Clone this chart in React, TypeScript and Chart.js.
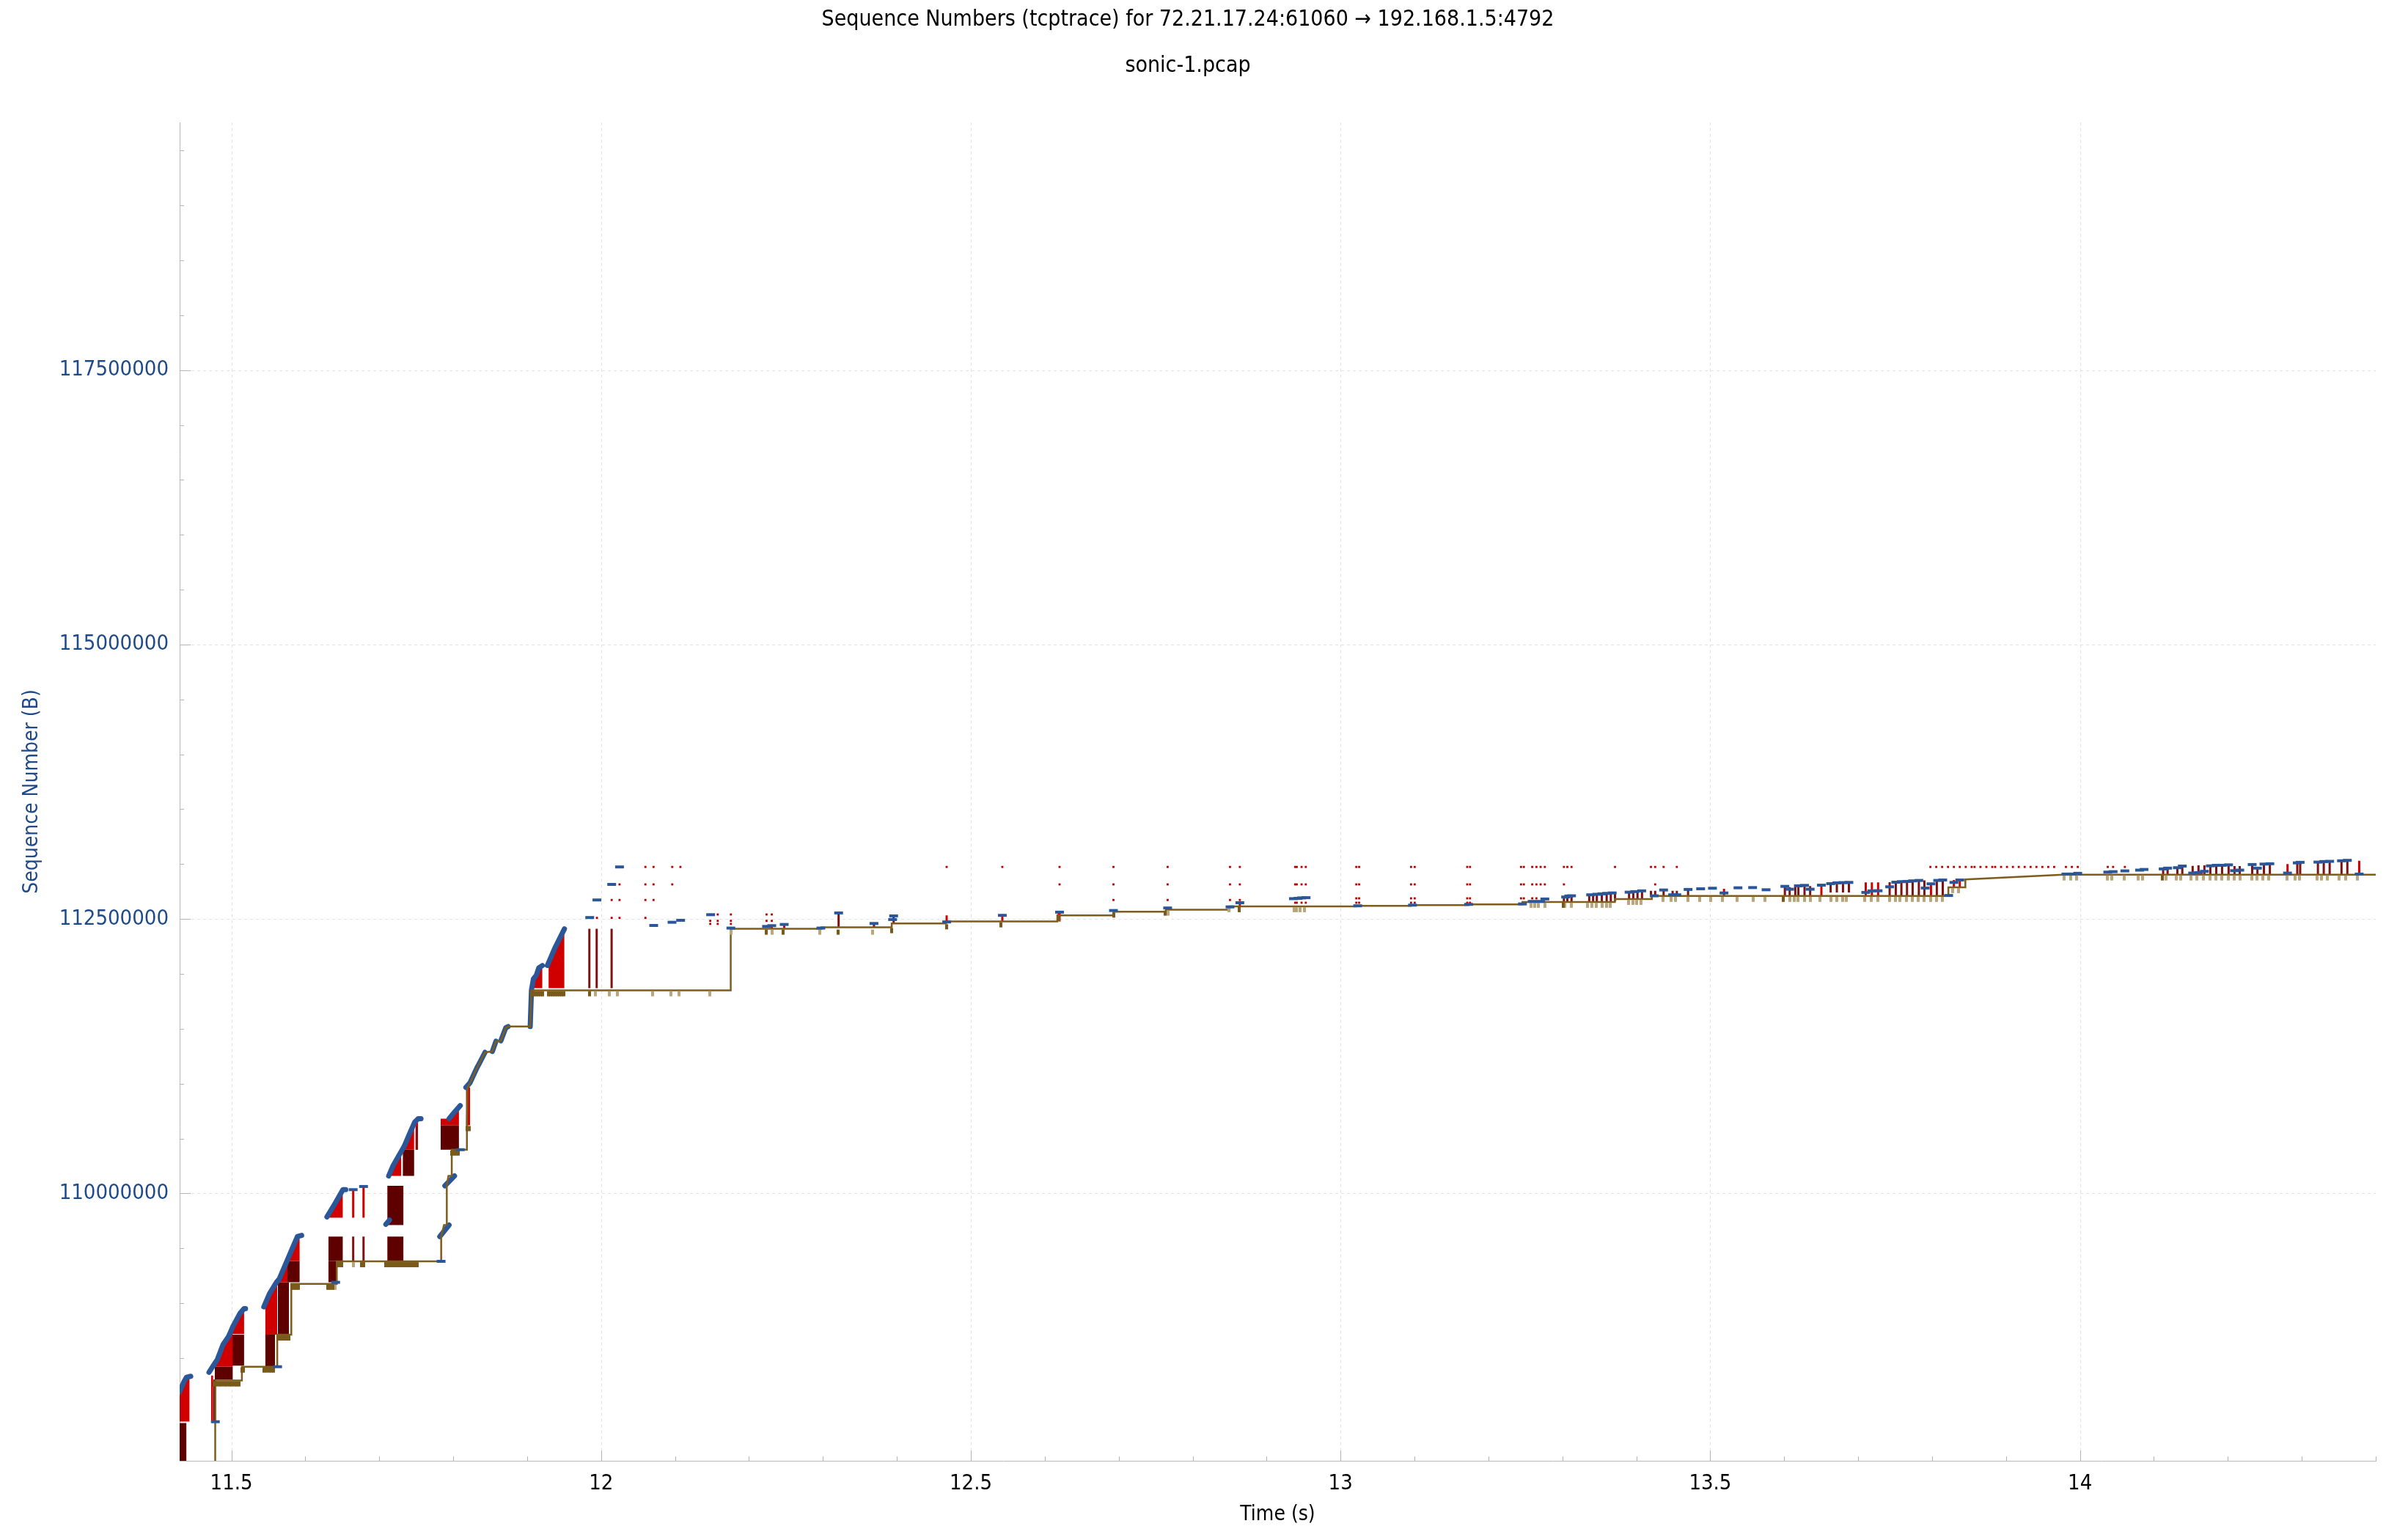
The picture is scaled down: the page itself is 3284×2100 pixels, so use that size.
import React, { useEffect, useRef } from 'react';
import { Chart, registerables } from 'chart.js';

Chart.register(...registerables);

// ---------- text ----------
const TITLE = 'Sequence Numbers (tcptrace) for 72.21.17.24:61060 \u2192 192.168.1.5:4792';
const SUBTITLE = 'sonic-1.pcap';
const X_LABEL = 'Time (s)';
const Y_LABEL = 'Sequence Number (B)';

// ---------- axes ----------
const X_MIN = 11.43;
const X_MAX = 14.4;
const Y_MIN = 107564000;
const Y_MAX = 119756000;
const xMajorTicks = [11.5, 12, 12.5, 13, 13.5, 14];
const xMinorTicks = [11.6, 11.7, 11.8, 11.9, 12.1, 12.2, 12.3, 12.4, 12.6, 12.7, 12.8, 12.9, 13.1, 13.2, 13.3, 13.4, 13.6, 13.7, 13.8, 13.9, 14.1, 14.2, 14.3, 14.4];
const yMajorTicks = [110000000, 112500000, 115000000, 117500000];
const yMinorTicks = [108, 108.5, 109, 109.5, 110.5, 111, 111.5, 112, 113, 113.5, 114, 114.5, 115.5, 116, 116.5, 117, 118, 118.5, 119, 119.5];

// ---------- data (time s, sequence in millions of bytes) ----------
const ackTimes = [11.43, 11.4781, 11.4781, 11.5142, 11.5142, 11.562, 11.562, 11.581, 11.581, 11.6425, 11.6425, 11.7837, 11.7837, 11.7875, 11.7913, 11.7913, 11.7935, 11.798, 11.798, 11.8185, 11.8185, 11.8195, 11.8228, 11.832, 11.8363, 11.843, 11.8529, 11.8578, 11.8644, 11.871, 11.8743, 11.9041, 11.9058, 12.1753, 12.1753, 12.298, 12.298, 12.393, 12.393, 12.466, 12.466, 12.617, 12.617, 12.693, 12.693, 12.764, 12.764, 12.85, 12.85, 13.021, 13.021, 13.095, 13.095, 13.173, 13.173, 13.246, 13.246, 13.371, 13.371, 13.421, 13.421, 13.822, 13.822, 13.845, 13.845, 13.977, 14.4];
const ackSeqs = [107.3, 107.3, 108.295, 108.295, 108.421, 108.421, 108.713, 108.713, 109.175, 109.175, 109.381, 109.381, 109.607, 109.712, 109.712, 110.069, 110.159, 110.159, 110.398, 110.398, 110.621, 110.965, 111.009, 111.143, 111.197, 111.285, 111.293, 111.386, 111.39, 111.508, 111.52, 111.52, 111.849, 111.849, 112.41, 112.41, 112.424, 112.424, 112.459, 112.459, 112.477, 112.477, 112.533, 112.533, 112.566, 112.566, 112.584, 112.584, 112.615, 112.615, 112.62, 112.62, 112.626, 112.626, 112.633, 112.633, 112.655, 112.655, 112.682, 112.682, 112.709, 112.709, 112.789, 112.789, 112.86, 112.904, 112.904];

// data-segment bursts (blue)
const segmentBursts: [number, number][][] = [
  [[11.4299, 108.191], [11.4355, 108.28], [11.4393, 108.325], [11.445, 108.334]],
  [[11.4697, 108.37], [11.4754, 108.43], [11.4811, 108.489], [11.4887, 108.623], [11.4963, 108.698], [11.502, 108.787], [11.5115, 108.906], [11.5172, 108.951], [11.5191, 108.951]],
  [[11.5438, 108.966], [11.5514, 109.085], [11.5609, 109.19], [11.5647, 109.22], [11.5741, 109.369], [11.5817, 109.488], [11.5893, 109.607], [11.595, 109.617]],
  [[11.6292, 109.786], [11.6387, 109.891], [11.6508, 110.034], [11.6546, 110.034]],
  [[11.7089, 109.718], [11.7138, 109.757]],
  [[11.7127, 110.159], [11.7184, 110.249], [11.7298, 110.383], [11.7336, 110.428], [11.7412, 110.547], [11.748, 110.651], [11.7526, 110.681], [11.7564, 110.681]],
  [[11.7818, 109.607], [11.7944, 109.712]],
  [[11.7887, 110.069], [11.8017, 110.159]],
  [[11.7944, 110.681], [11.8017, 110.74], [11.8095, 110.8]],
  [[11.8171, 110.965], [11.8228, 111.009], [11.832, 111.143], [11.8363, 111.197], [11.843, 111.285]],
  [[11.8529, 111.293], [11.8578, 111.386]],
  [[11.8644, 111.39], [11.871, 111.508], [11.8743, 111.52]],
  [[11.9041, 111.52], [11.9058, 111.853], [11.9084, 111.953], [11.9124, 111.987], [11.9157, 112.054], [11.9206, 112.076]],
  [[11.9273, 112.076], [11.9372, 112.232], [11.9504, 112.41]],
];

// SACK fill regions (bright red): times, upper edge, lower edge
const sackRegionTimes = [
  [11.4299, 11.4355, 11.4393, 11.4435],
  [11.4724, 11.4754],
  [11.4754, 11.4811, 11.4887, 11.4963, 11.502],
  [11.5001, 11.5115, 11.5172],
  [11.5457, 11.5514, 11.5609, 11.562],
  [11.5628, 11.5647, 11.5741, 11.5758],
  [11.5758, 11.5817, 11.5893, 11.5924],
  [11.6311, 11.6387, 11.6508],
  [11.7146, 11.7184, 11.7298],
  [11.7317, 11.7336, 11.7412, 11.7472],
  [11.7488, 11.7526],
  [11.783, 11.7944, 11.8017, 11.8077],
  [11.8171, 11.8228],
  [11.9094, 11.9124, 11.9157, 11.9206],
  [11.9289, 11.9372, 11.9504],
];
const sackRegionTops = [
  [108.191, 108.28, 108.325, 108.334],
  [108.34, 108.34],
  [108.43, 108.489, 108.623, 108.698, 108.787],
  [108.757, 108.906, 108.951],
  [108.996, 109.085, 109.19, 109.199],
  [109.205, 109.22, 109.369, 109.399],
  [109.399, 109.488, 109.607, 109.612],
  [109.801, 109.891, 110.034],
  [110.189, 110.249, 110.383],
  [110.4, 110.428, 110.547, 110.642],
  [110.651, 110.681],
  [110.681, 110.681, 110.74, 110.79],
  [110.965, 110.965],
  [111.964, 111.987, 112.054, 112.076],
  [112.087, 112.232, 112.41],
];
const sackRegionBases = [107.922, 107.922, 108.423, 108.72, 108.713, 109.19, 109.384, 109.778, 110.159, 110.398, 110.398, 110.621, 110.621, 111.869, 111.869];

// older SACK blocks (dark red): t0, t1, low, high
const darkSackBlocks: [number, number, number, number][] = [
  [11.4299, 11.4393, 107.3, 107.908],
  [11.4754, 11.4793, 107.922, 108.304],
  [11.4774, 11.502, 108.304, 108.423],
  [11.5001, 11.5172, 108.43, 108.713],
  [11.5457, 11.559, 108.423, 108.713],
  [11.5628, 11.578, 108.713, 109.19],
  [11.5758, 11.5924, 109.19, 109.384],
  [11.6311, 11.6508, 109.384, 109.607],
  [11.6311, 11.6425, 109.19, 109.384],
  [11.7317, 11.7472, 110.159, 110.398],
  [11.7108, 11.7328, 109.712, 110.069],
  [11.7108, 11.7328, 109.384, 109.607],
  [11.783, 11.8077, 110.398, 110.621],
];

// single SACK blocks: time, low, high
const sackLinesBright: [number, number, number][] = [
  [11.6647, 109.778, 110.034], [11.6787, 109.778, 110.063], [12.2308, 112.41, 112.439], [12.2476, 112.417, 112.45],
  [12.4673, 112.459, 112.533], [12.5426, 112.477, 112.543], [12.62, 112.477, 112.562], [12.6189, 112.533, 112.559],
  [12.7662, 112.584, 112.6], [12.8638, 112.615, 112.648], [13.5186, 112.715, 112.775], [13.6503, 112.709, 112.808],
  [13.7103, 112.709, 112.833], [13.7186, 112.709, 112.833], [13.727, 112.709, 112.833], [13.7985, 112.709, 112.82],
  [13.8295, 112.789, 112.855], [13.8375, 112.789, 112.855], [14.2807, 112.904, 113.0], [14.3776, 112.904, 113.03],
];
const sackLinesDark: [number, number, number][] = [
  [11.6647, 109.384, 109.607], [11.6787, 109.384, 109.607], [11.7507, 110.398, 110.607],
  [11.9841, 111.869, 112.41], [11.994, 111.869, 112.41], [12.0142, 111.869, 112.41],
  [12.3212, 112.423, 112.555], [12.369, 112.423, 112.459], [12.3956, 112.459, 112.528],
  [13.3021, 112.655, 112.7], [13.3067, 112.655, 112.709], [13.3124, 112.655, 112.711], [13.3363, 112.655, 112.72],
  [13.3416, 112.655, 112.725], [13.3466, 112.655, 112.727], [13.3534, 112.655, 112.729], [13.3599, 112.655, 112.733],
  [13.3655, 112.655, 112.737], [13.3712, 112.66, 112.735], [13.3902, 112.682, 112.744], [13.3959, 112.682, 112.749],
  [13.4016, 112.682, 112.752], [13.4077, 112.682, 112.756], [13.4198, 112.711, 112.756], [13.4255, 112.711, 112.756],
  [13.4369, 112.709, 112.764], [13.4491, 112.709, 112.756], [13.4548, 112.709, 112.756], [13.47, 112.709, 112.769],
  [13.6009, 112.709, 112.797], [13.6074, 112.709, 112.79], [13.615, 112.709, 112.8], [13.6192, 112.709, 112.802],
  [13.6275, 112.709, 112.806], [13.6351, 112.709, 112.8], [13.6628, 112.742, 112.822], [13.6712, 112.742, 112.829],
  [13.6795, 112.742, 112.831], [13.6875, 112.742, 112.833], [13.7426, 112.709, 112.835], [13.7509, 112.709, 112.835],
  [13.7585, 112.709, 112.84], [13.7661, 112.709, 112.842], [13.7737, 112.709, 112.847], [13.7821, 112.709, 112.851],
  [13.7896, 112.709, 112.851], [13.8064, 112.709, 112.851], [13.8144, 112.709, 112.855],
  [14.1125, 112.904, 112.956], [14.1185, 112.904, 112.963], [14.1317, 112.904, 112.967], [14.1384, 112.904, 112.982],
  [14.1524, 112.904, 112.984], [14.1603, 112.904, 112.989], [14.1683, 112.904, 112.989], [14.1763, 112.904, 112.989],
  [14.1843, 112.904, 112.989], [14.1922, 112.904, 112.989], [14.201, 112.904, 112.993], [14.209, 112.904, 112.982],
  [14.2161, 112.904, 112.982], [14.2329, 112.904, 112.996], [14.24, 112.904, 112.963], [14.2488, 112.904, 113.0],
  [14.2568, 112.904, 113.003], [14.2939, 112.904, 113.011], [14.2978, 112.904, 113.016], [14.3218, 112.904, 113.018],
  [14.3297, 112.904, 113.023], [14.3377, 112.904, 113.025], [14.3537, 112.904, 113.03], [14.3616, 112.904, 113.034],
];

// repeated tiny SACK blocks: [sequence, times]
const sackDotRows: [number, number[]][] = [
  [112.974, [12.0599, 12.0709, 12.0962, 12.1072, 12.4673, 12.5426, 12.62, 12.6929, 12.7662, 12.8505, 12.8638, 12.9386, 12.9408, 12.9473, 12.953, 13.0213, 13.0251, 13.0954, 13.1003, 13.1713, 13.1751, 13.2441, 13.2479, 13.2592, 13.2649, 13.2706, 13.2763, 13.3021, 13.3067, 13.3124, 13.3712, 13.4198, 13.4255, 13.4369, 13.4548, 13.7977, 13.8056, 13.8136, 13.8216, 13.8295, 13.8375, 13.8455, 13.8535, 13.8574, 13.8654, 13.8734, 13.8814, 13.8853, 13.8933, 13.9013, 13.9093, 13.9172, 13.9252, 13.9332, 13.9411, 13.9491, 13.9571, 13.9651, 13.981, 13.989, 13.997, 14.0376, 14.0448, 14.0607]],
  [112.815, [12.0249, 12.0599, 12.0709, 12.0962, 12.62, 12.6929, 12.7662, 12.8505, 12.8638, 12.9386, 12.9408, 12.9473, 12.953, 13.0213, 13.0251, 13.0954, 13.1003, 13.1713, 13.1751, 13.2441, 13.2479, 13.2592, 13.2649, 13.2706, 13.2763, 13.3021, 13.4255]],
  [112.688, [13.0213, 13.0251, 13.0954, 13.1003, 13.1713, 13.1751, 13.2441, 13.2479, 13.2592, 13.2649]],
  [112.673, [12.0143, 12.0249, 12.0599, 12.0709, 12.6929, 12.7662, 12.8505, 12.8638]],
  [112.648, [12.9386, 12.9408, 12.9473, 12.953, 13.0213, 13.0251, 13.0954, 13.1003, 13.1713, 13.1751]],
  [112.541, [12.1577, 12.1755, 12.2237, 12.2308]],
  [112.51, [11.9943, 12.0143, 12.0249, 12.0599]],
  [112.483, [12.1476, 12.1577, 12.1755, 12.2237, 12.2308]],
  [112.455, [12.1476, 12.1577, 12.1755]],
];

// individual data segments: [time, sequence]
const segmentMarks: [number, number][] = [
  [11.4783, 107.92], [11.5625, 108.421], [11.641, 109.19], [11.6647, 110.034], [11.6787, 110.063], [11.7836, 109.381], [11.8095, 110.398],
  [11.9846, 112.513], [11.9943, 112.673], [12.0143, 112.815], [12.0249, 112.974], [12.0711, 112.441], [12.0959, 112.47], [12.1075, 112.488],
  [12.1481, 112.539], [12.1755, 112.417], [12.2237, 112.432], [12.2308, 112.439], [12.2476, 112.45], [12.2972, 112.417], [12.3212, 112.555],
  [12.369, 112.459], [12.3942, 112.495], [12.3956, 112.528], [12.4673, 112.473], [12.5426, 112.533], [12.62, 112.562], [12.6929, 112.577],
  [12.7662, 112.6], [12.8505, 112.61], [12.8638, 112.648], [12.9363, 112.685], [12.9425, 112.688], [12.9473, 112.692], [12.9534, 112.694],
  [13.0232, 112.62], [13.0973, 112.626], [13.1732, 112.633], [13.246, 112.637], [13.2592, 112.66], [13.2706, 112.66], [13.2763, 112.682],
  [13.3044, 112.7], [13.3086, 112.709], [13.3124, 112.711], [13.3382, 112.72], [13.3466, 112.725], [13.3534, 112.729], [13.3599, 112.733],
  [13.3674, 112.737], [13.3902, 112.744], [13.3978, 112.749], [13.4073, 112.756], [13.4243, 112.711], [13.4369, 112.764], [13.4491, 112.72],
  [13.4548, 112.72], [13.47, 112.769], [13.487, 112.775], [13.503, 112.78], [13.5186, 112.737], [13.5375, 112.784], [13.5573, 112.786],
  [13.5755, 112.766], [13.6009, 112.797], [13.6074, 112.771], [13.6192, 112.802], [13.6275, 112.806], [13.6351, 112.771], [13.6503, 112.808],
  [13.6628, 112.822], [13.6712, 112.829], [13.6795, 112.831], [13.6875, 112.833], [13.7103, 112.742], [13.7186, 112.756], [13.727, 112.757],
  [13.7426, 112.793], [13.7509, 112.835], [13.7585, 112.84], [13.7661, 112.842], [13.7737, 112.847], [13.7821, 112.851], [13.7907, 112.782],
  [13.7985, 112.82], [13.8076, 112.851], [13.8144, 112.855], [13.8224, 112.714], [13.8295, 112.833], [13.8375, 112.855], [13.981, 112.909],
  [13.989, 112.909], [13.997, 112.916], [14.0376, 112.927], [14.0448, 112.931], [14.0607, 112.938], [14.0806, 112.945], [14.0866, 112.951],
  [14.1125, 112.956], [14.1185, 112.963], [14.1317, 112.967], [14.1384, 112.982], [14.1524, 112.918], [14.1603, 112.922], [14.1683, 112.934],
  [14.1763, 112.984], [14.1843, 112.989], [14.1922, 112.989], [14.201, 112.993], [14.209, 112.94], [14.2161, 112.945], [14.2329, 112.996],
  [14.24, 112.963], [14.2488, 113.0], [14.2568, 113.003], [14.2807, 112.918], [14.2939, 113.011], [14.2978, 113.016], [14.3218, 113.018],
  [14.3297, 113.023], [14.3377, 113.025], [14.3537, 113.03], [14.3616, 113.034], [14.3776, 112.909],
];

// ack markers hanging under the ack line: [ack sequence, times]
const ackMarksDark: [number, number[]][] = [
  [108.295, [11.4765, 11.4799, 11.4834, 11.4868, 11.4902, 11.4936, 11.4971, 11.5005, 11.5039, 11.5073, 11.5107]],
  [108.421, [11.5142, 11.5165, 11.5445, 11.5475, 11.5505, 11.5535, 11.5565]],
  [108.713, [11.5625, 11.5655, 11.5685, 11.5715, 11.5745, 11.5775]],
  [109.175, [11.5815, 11.5845, 11.5875, 11.5905, 11.6305, 11.6335, 11.637]],
  [109.381, [11.6435, 11.6465, 11.6495, 11.6755, 11.679, 11.709, 11.7125, 11.716, 11.7195, 11.723, 11.7265, 11.73, 11.7335, 11.737, 11.7405, 11.744, 11.7475, 11.751]],
  [110.398, [11.798, 11.801, 11.804, 11.807]],
  [110.621, [11.8185, 11.8215]],
  [111.849, [11.906, 11.909, 11.912, 11.915, 11.918, 11.921, 11.929, 11.932, 11.935, 11.938, 11.941, 11.944, 11.947, 11.95, 11.9841]],
  [112.41, [12.2237, 12.2458, 12.3203]],
  [112.424, [12.393]],
  [112.459, [12.4673]],
  [112.477, [12.541]],
  [112.533, [12.6187]],
  [112.566, [12.6929]],
  [112.584, [12.7632]],
  [112.615, [12.8626]],
  [112.655, [13.301]],
  [112.709, [13.5991]],
  [112.904, [14.1117]],
];
const ackMarksLight: [number, number[]][] = [
  [109.175, [11.6405]],
  [109.381, [11.6647]],
  [111.849, [11.9923, 12.0115, 12.0225, 12.0695, 12.0943, 12.1052, 12.1468]],
  [112.41, [12.1755, 12.2308, 12.2959, 12.3668]],
  [112.584, [12.767]],
  [112.615, [12.8493, 12.9371, 12.9405, 12.9454, 12.9511]],
  [112.655, [13.2574, 13.2623, 13.268, 13.2763, 13.3029, 13.3124, 13.334, 13.3401, 13.3458, 13.3542, 13.3599, 13.3648]],
  [112.682, [13.3891, 13.3952, 13.4008, 13.4062]],
  [112.709, [13.4365, 13.4475, 13.4529, 13.4696, 13.4859, 13.5003, 13.5163, 13.536, 13.5577, 13.5744, 13.6074, 13.6135, 13.6181, 13.6275, 13.6351, 13.6484, 13.6628, 13.6712, 13.6795, 13.6844, 13.7091, 13.7175, 13.7262, 13.7426, 13.7501, 13.7566, 13.765, 13.773, 13.7813, 13.7896, 13.7977, 13.8056, 13.8136]],
  [112.789, [13.8275, 13.8355]],
  [112.904, [13.9782, 13.987, 13.9957, 14.0368, 14.0428, 14.0595, 14.0786, 14.0846, 14.1165, 14.1305, 14.1364, 14.1504, 14.1584, 14.1671, 14.1755, 14.1835, 14.1914, 14.2002, 14.2082, 14.2161, 14.2321, 14.2393, 14.2472, 14.2552, 14.2799, 14.2911, 14.2967, 14.3206, 14.3269, 14.3349, 14.3509, 14.3596, 14.3756]],
];

// ---------- styles ----------
const FONT = "'DejaVu Sans Condensed', 'DejaVu Sans', sans-serif";
const BLUE = '#2b5799';
const AXIS_BLUE = '#1f4a8a';
const RED = '#d00000';
const DARK_RED = '#5e0000';
const LINE_DARK_RED = '#7e1212';
const ACK = '#7d5d1c';
const ACK_MARK_DARK = '#7a5a1a';
const ACK_MARK_LIGHT = '#b9a67c';
const M = 1e6;

function makeMarkStyle(color: string): HTMLCanvasElement {
  const c = document.createElement('canvas');
  c.width = 4;
  c.height = 18;
  const g = c.getContext('2d')!;
  g.fillStyle = color;
  g.fillRect(0, 10, 4, 7);
  return c;
}

const axisDecor = {
  id: 'axisDecor',
  beforeDatasetsDraw(chart: any) {
    const { ctx, chartArea: a, scales } = chart;
    const x = scales.x;
    const y = scales.y;
    ctx.save();
    ctx.lineWidth = 1;
    ctx.strokeStyle = '#e2e2e2';
    ctx.setLineDash([4, 4]);
    for (const v of xMajorTicks) {
      const px = Math.round(x.getPixelForValue(v)) + 0.5;
      ctx.beginPath(); ctx.moveTo(px, a.top); ctx.lineTo(px, a.bottom); ctx.stroke();
    }
    for (const v of yMajorTicks) {
      const py = Math.round(y.getPixelForValue(v)) + 0.5;
      ctx.beginPath(); ctx.moveTo(a.left, py); ctx.lineTo(a.right, py); ctx.stroke();
    }
    ctx.setLineDash([]);
    ctx.strokeStyle = '#b4b4b4';
    const tickX = (v: number, len: number) => {
      const px = Math.round(x.getPixelForValue(v)) + 0.5;
      ctx.beginPath(); ctx.moveTo(px, a.bottom); ctx.lineTo(px, a.bottom - len); ctx.stroke();
    };
    const tickY = (v: number, len: number) => {
      const py = Math.round(y.getPixelForValue(v)) + 0.5;
      ctx.beginPath(); ctx.moveTo(a.left, py); ctx.lineTo(a.left + len, py); ctx.stroke();
    };
    xMajorTicks.forEach((v) => tickX(v, 14));
    xMinorTicks.forEach((v) => tickX(v, 6));
    yMajorTicks.forEach((v) => tickY(v, 15));
    yMinorTicks.forEach((v) => tickY(v * M, 6));
    ctx.restore();
  },
};

export default function App() {
  const ref = useRef<HTMLCanvasElement | null>(null);

  useEffect(() => {
    const canvas = ref.current;
    if (!canvas) return;
    const markDark = makeMarkStyle(ACK_MARK_DARK);
    const markLight = makeMarkStyle(ACK_MARK_LIGHT);

    const datasets: any[] = [];
    const base = { pointRadius: 0, borderWidth: 0, clip: 0, spanGaps: false };

    darkSackBlocks.forEach(([t0, t1, lo, hi]) => {
      datasets.push({ ...base, data: [{ x: t0, y: hi * M }, { x: t1, y: hi * M }], borderColor: 'transparent', backgroundColor: DARK_RED, fill: { value: lo * M }, order: 20 });
    });
    sackRegionTimes.forEach((ts, i) => {
      datasets.push({ ...base, data: ts.map((t, j) => ({ x: t, y: sackRegionTops[i][j] * M })), borderColor: 'transparent', backgroundColor: RED, fill: { value: sackRegionBases[i] * M }, order: 19 });
    });
    const toLines = (arr: [number, number, number][]) => arr.flatMap(([t, lo, hi]) => [{ x: t, y: lo * M }, { x: t, y: hi * M }, { x: t, y: null }]);
    datasets.push({ ...base, data: toLines(sackLinesDark), borderColor: LINE_DARK_RED, borderWidth: 3, fill: false, order: 18 });
    datasets.push({ ...base, data: toLines(sackLinesBright), borderColor: RED, borderWidth: 3, fill: false, order: 17 });
    segmentBursts.forEach((b) => {
      datasets.push({ ...base, data: b.map(([t, s]) => ({ x: t, y: s * M })), borderColor: BLUE, borderWidth: 7, borderCapStyle: 'round', borderJoinStyle: 'round', fill: false, order: 16 });
    });
    datasets.push({ ...base, data: ackTimes.map((t, i) => ({ x: t, y: ackSeqs[i] * M })), borderColor: ACK, borderWidth: 2.5, fill: false, order: 15 });
    const markData = (groups: [number, number[]][]) => groups.flatMap(([s, ts]) => ts.map((t) => ({ x: t, y: s * M })));
    datasets.push({ ...base, data: markData(ackMarksLight), showLine: false, pointRadius: 1, pointStyle: markLight, order: 14 });
    datasets.push({ ...base, data: markData(ackMarksDark), showLine: false, pointRadius: 1, pointStyle: markDark, order: 13 });
    datasets.push({ ...base, data: markData(sackDotRows), showLine: false, pointRadius: 2, pointStyle: 'rect', pointBackgroundColor: '#b80000', pointBorderWidth: 0, order: 12 });
    datasets.push({ ...base, data: segmentMarks.map(([t, s]) => ({ x: t, y: s * M })), showLine: false, pointRadius: 6, pointStyle: 'line', pointBorderColor: BLUE, pointBorderWidth: 4, order: 11 });

    const chart = new Chart(canvas, {
      type: 'line',
      data: { datasets },
      options: {
        animation: false,
        responsive: false,
        devicePixelRatio: 1,
        events: [],
        layout: { padding: { left: 0, right: 44, top: 0, bottom: 0 } },
        plugins: {
          legend: { display: false },
          tooltip: { enabled: false },
          title: { display: true, text: TITLE, color: '#000', font: { family: FONT, size: 30, weight: 'normal' }, padding: { top: 9, bottom: 0 } },
          subtitle: { display: true, text: SUBTITLE, color: '#000', font: { family: FONT, size: 30, weight: 'normal' }, padding: { top: 27, bottom: 59 } },
        },
        scales: {
          x: {
            type: 'linear',
            min: X_MIN,
            max: X_MAX,
            grid: { display: false, drawTicks: false },
            border: { display: true, color: '#b8b8b8', width: 1 },
            afterBuildTicks: (s: any) => { s.ticks = xMajorTicks.map((v) => ({ value: v })); },
            ticks: {
              autoSkip: false,
              maxRotation: 0,
              padding: 14,
              color: '#000',
              font: { family: FONT, size: 29 },
              callback: (v: any) => String(v),
            },
            title: { display: true, text: X_LABEL, color: '#000', font: { family: FONT, size: 28 }, padding: { top: 0, bottom: 17 } },
            afterFit: (s: any) => { s.height = 108; },
          },
          y: {
            type: 'linear',
            min: Y_MIN,
            max: Y_MAX,
            grid: { display: false, drawTicks: false },
            border: { display: true, color: '#b8b8b8', width: 1 },
            afterBuildTicks: (s: any) => { s.ticks = yMajorTicks.map((v) => ({ value: v })); },
            ticks: {
              autoSkip: false,
              padding: 15,
              color: AXIS_BLUE,
              font: { family: FONT, size: 29 },
              callback: (v: any) => String(v),
            },
            title: { display: true, text: Y_LABEL, color: AXIS_BLUE, font: { family: FONT, size: 28 }, padding: { top: 27, bottom: 0 } },
            afterFit: (s: any) => { s.width = 245; },
          },
        },
      } as any,
      plugins: [axisDecor],
    });
    return () => chart.destroy();
  }, []);

  return (
    <div style={{ position: 'fixed', left: 0, top: 0, width: 3284, height: 2100, background: '#fff' }}>
      <canvas ref={ref} width={3284} height={2100} style={{ display: 'block', width: 3284, height: 2100 }} />
    </div>
  );
}
